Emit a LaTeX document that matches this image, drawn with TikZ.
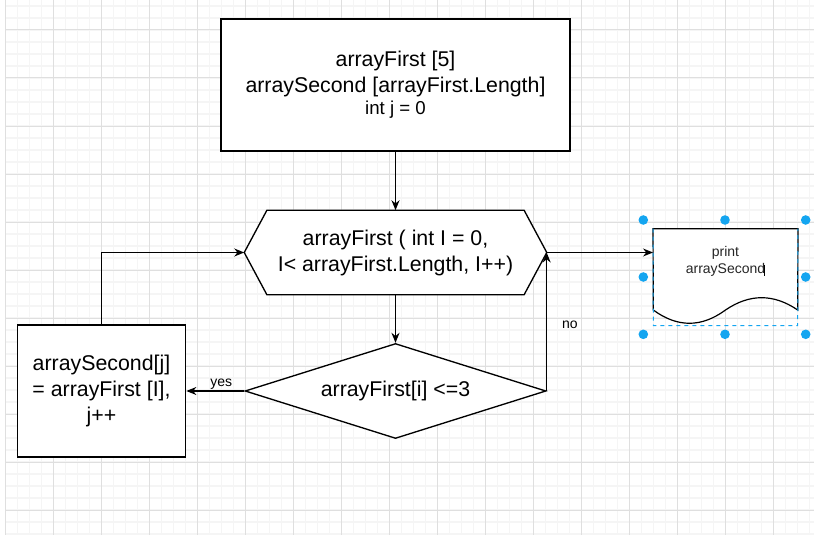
\documentclass[tikz,border=0pt]{standalone}
\usepackage{fontspec}
\setmainfont{Liberation Sans}
\usetikzlibrary{arrows.meta,shapes.geometric}
\definecolor{gridminor}{RGB}{245,245,245}
\definecolor{gridmajor}{RGB}{223,223,223}
\definecolor{selblue}{RGB}{20,165,240}

\begin{document}
\begin{tikzpicture}[x=0.75pt, y=-0.75pt, >={Stealth[length=7.5pt,width=6pt]},
    every node/.style={font=\fontsize{16}{19.5}\selectfont},
    box/.style={draw, rectangle, line width=1pt, align=center, inner sep=2pt},
    flow/.style={->, line width=1pt},
    small/.style={font=\fontsize{10.5}{12.75}\selectfont, inner sep=1pt}]
    \useasboundingbox (0,0) rectangle (814,535);

    % Grid background
    \foreach \x in {5.3,17.3,...,814} \draw[gridminor, line width=1pt] (\x,0) -- (\x,535);
    \foreach \y in {6,18,...,535} \draw[gridminor, line width=1pt] (5.3,\y) -- (814,\y);
    \foreach \x in {5.3,53.3,...,814} \draw[gridmajor, line width=0.75pt] (\x,0) -- (\x,535);
    \foreach \y in {30,78,...,535} \draw[gridmajor, line width=0.75pt] (5.3,\y) -- (814,\y);

    % Declarations - box at the top
    \node[box, fill=white, minimum width=261.75pt, minimum height=99pt] (init) at (395.5,85) {arrayFirst [5]\\arraySecond [arrayFirst.Length]\\[-3pt]{\fontsize{14}{16.5}\selectfont int j = 0}};

    % Loop - hexagon drawn round a plain node
    \node[minimum width=226.5pt, minimum height=63pt, align=center] (loop) at (395.5,252.5) {};
    \fill[white] (loop.west) -- ([xshift=17pt]loop.north west) -- ([xshift=-17pt]loop.north east) -- (loop.east) -- ([xshift=-17pt]loop.south east) -- ([xshift=17pt]loop.south west) -- cycle;
    \draw[line width=1pt] (loop.west) -- ([xshift=17pt]loop.north west) -- ([xshift=-17pt]loop.north east) -- (loop.east) -- ([xshift=-17pt]loop.south east) -- ([xshift=17pt]loop.south west) -- cycle;
    \node[align=center] at (loop) {arrayFirst ( int I = 0,\\I< arrayFirst.Length, I++)};

    % Condition - diamond under the loop
    \node[draw, fill=white, diamond, line width=1pt, aspect=3.17, minimum width=225.75pt, minimum height=71.25pt, inner sep=1pt] (cond) at (395.5,391) {arrayFirst[i] <=3};

    % Assignment - box on the left
    \node[box, fill=white, minimum width=126.3pt, minimum height=99.2pt] (assign) at (101.5,391) {arraySecond[j]\\= arrayFirst [I],\\j++};

    % Output - document shape on the right
    \node[minimum width=108.3pt, minimum height=48.75pt] (print) at (725.5,261.5) {};
    \fill[white] (print.north west) -- (print.north east) -- (797.7,310) .. controls (773.6,293.6) and (749.6,293.6) .. (725.5,310) .. controls (701.4,327.7) and (677.4,327.7) .. (653.3,310) -- cycle;
    \draw[line width=0.9pt] (print.north west) -- (print.north east) -- (797.7,310) .. controls (773.6,293.6) and (749.6,293.6) .. (725.5,310) .. controls (701.4,327.7) and (677.4,327.7) .. (653.3,310) -- cycle;
    \node[align=center, font=\fontsize{10.5}{12.75}\selectfont, text=black!85] at (print) {print\\arraySecond};

    % Selection frame and handles round the output
    \draw[selblue, line width=0.75pt, dash pattern=on 3pt off 3pt] (print.north west) -- (653.3,325.7) -- (797.7,325.7) -- (print.north east);
    \foreach \x/\y in {643.3/220, 725/220, 805.7/220, 643.3/277, 805.7/277, 643.3/334.3, 725/334.3, 805.7/334.3}
        \fill[selblue] (\x,\y) circle[radius=3.6pt];
    \draw[line width=0.6pt] (764.3,265) -- (764.3,276);

    % Edges
    \draw[flow] (init) -- (loop);
    \draw[flow] (loop) -- (cond);
    \draw[flow] (cond) -- (assign) node[small, above, pos=0.4] {yes};
    \draw[flow] (assign.north) |- (loop.west);
    \draw[flow] (cond.east) -- (cond.east |- loop.east) node[small, right=10pt, pos=0.48] {no};
    \draw[flow] (loop.east) -- (loop.east -| print.west);
\end{tikzpicture}
\end{document}
